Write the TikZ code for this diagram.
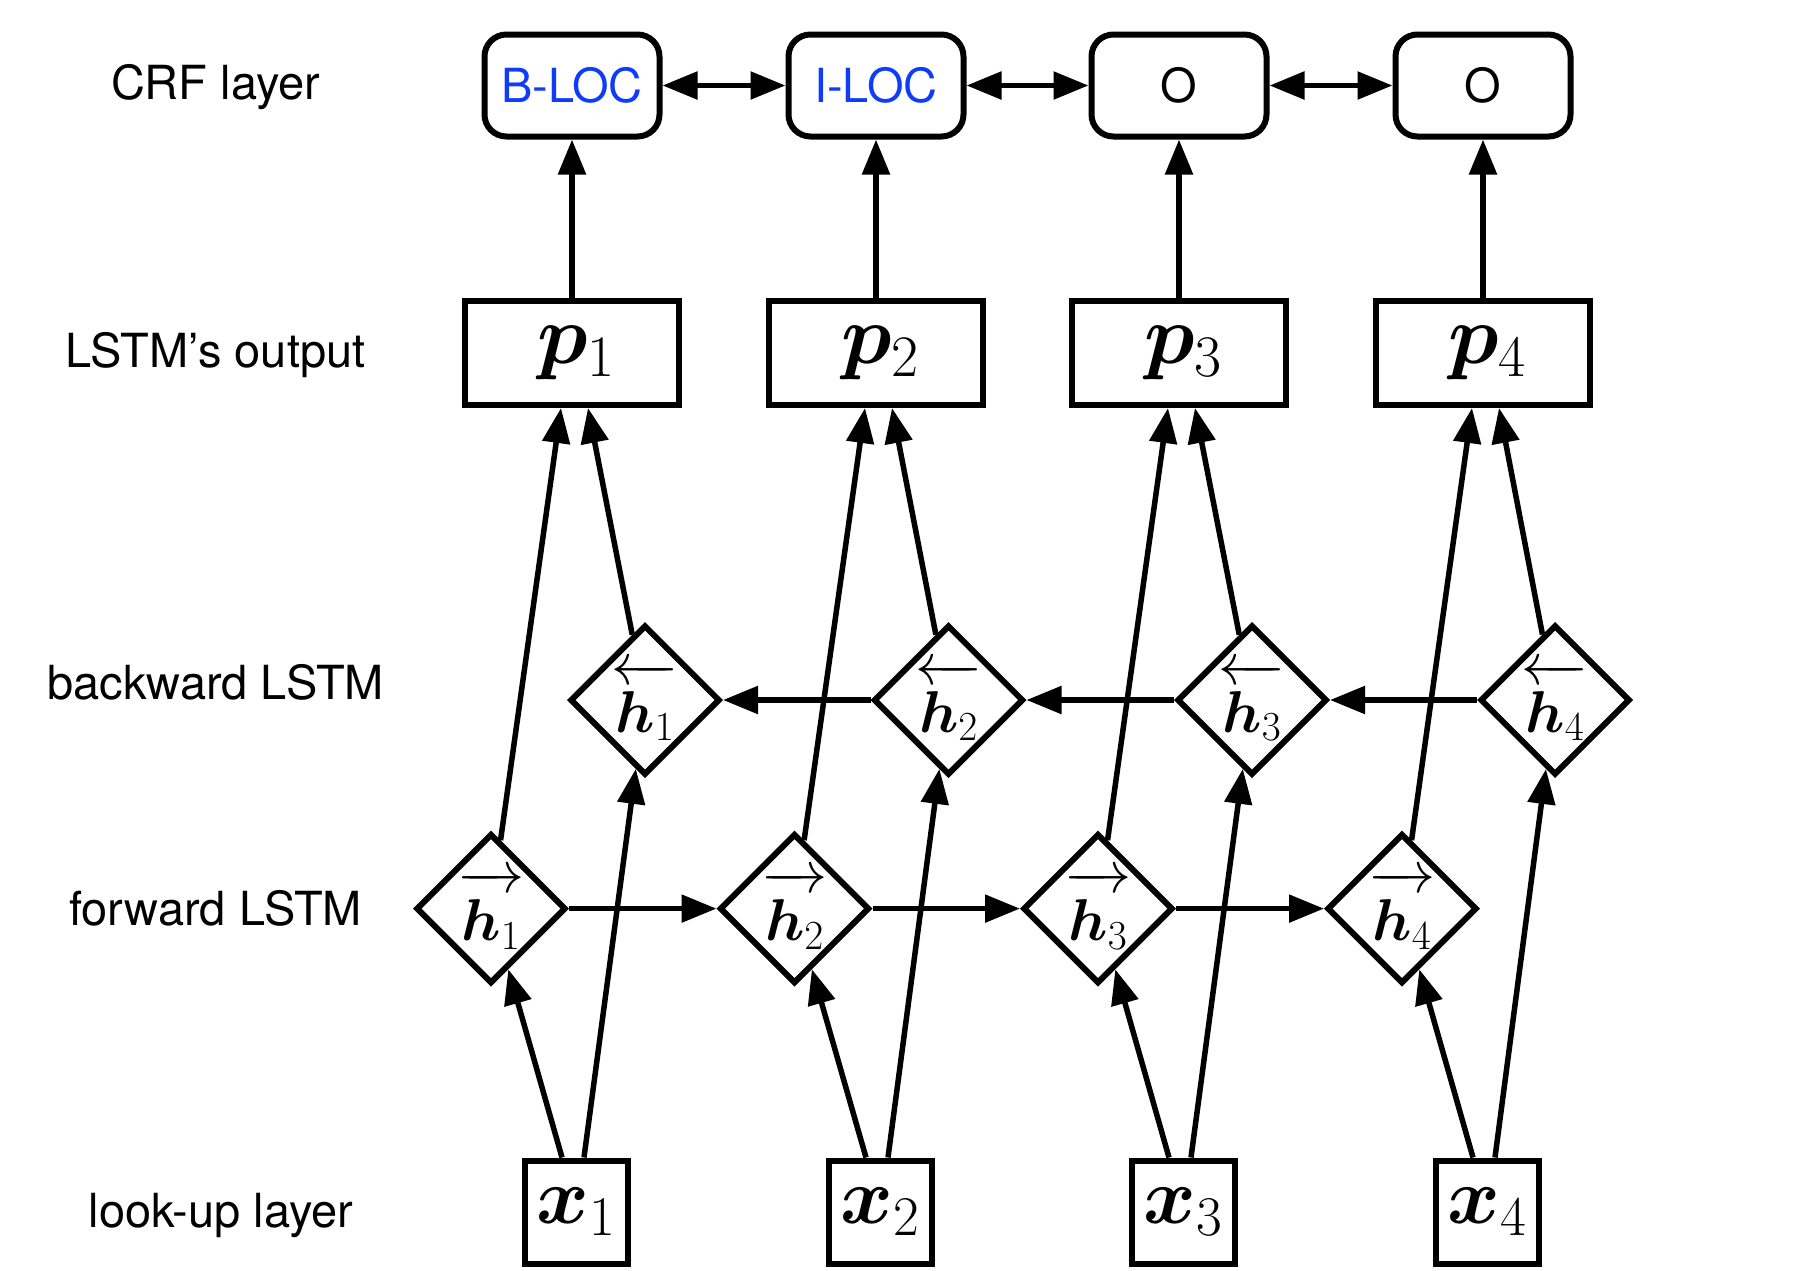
\RequirePackage{fix-cm}
\documentclass[tikz,border=0pt]{standalone}
\usepackage{amsmath,bm}
\usepackage{fontspec}
\newfontfamily\lab{TeX Gyre Heros}
\usetikzlibrary{arrows.meta,shapes.geometric}
\definecolor{tagblue}{RGB}{15,60,250}
\tikzset{
 lbl/.style={font=\lab\fontsize{47}{50}\selectfont, inner sep=0pt},
 crf/.style={draw, line width=6pt, rounded corners=22pt, minimum width=175pt, minimum height=102pt, font=\lab\fontsize{47}{50}\selectfont, inner sep=0pt},
 pbox/.style={draw, line width=6pt, minimum width=214pt, minimum height=104pt, inner sep=0pt, font=\fontsize{84}{88}\selectfont},
 xbox/.style={draw, line width=6pt, minimum width=103pt, minimum height=103pt, inner sep=0pt, font=\fontsize{80}{84}\selectfont},
 hd/.style={draw, diamond, aspect=1, line width=6pt, minimum width=150pt, minimum height=150pt, inner sep=0pt},
 htxt/.style={anchor=base, inner sep=0pt, font=\fontsize{59}{63}\selectfont},
 arr/.style={line width=5.5pt, -{Triangle[length=35pt,width=27pt]}},
 darr/.style={line width=5.5pt, {Triangle[length=35pt,width=27pt]}-{Triangle[length=35pt,width=27pt]}},
}
\begin{document}
\begin{tikzpicture}[x=1pt,y=-1pt]
\useasboundingbox (0,0) rectangle (1808,1270);
% labels
\node[lbl] (lcrf) at (215.6,87) {CRF layer};
\node[lbl] (lout) at (215.6,355) {LSTM’s output};
\node[lbl] (lbw) at (215.6,682) {backward LSTM};
\node[lbl] (lfw) at (215.6,908) {forward LSTM};
\node[lbl] (llu) at (221,1215) {look-up layer};
% CRF layer
\node[crf, text=tagblue] (c1) at (572,85.5) {B-LOC};
\node[crf, text=tagblue] (c2) at (876,85.5) {I-LOC};
\node[crf] (c3) at (1179,85.5) {O};
\node[crf] (c4) at (1483,85.5) {O};
% outputs
\node[pbox] (p1) at (572,353) {\hspace{8pt}$\bm{p}_1$};
\node[pbox] (p2) at (876,353) {\hspace{8pt}$\bm{p}_2$};
\node[pbox] (p3) at (1179,353) {\hspace{8pt}$\bm{p}_3$};
\node[pbox] (p4) at (1483,353) {\hspace{8pt}$\bm{p}_4$};
% backward LSTM
\foreach \i/\x in {1/645,2/948.5,3/1252,4/1555}{
  \node[hd] (b\i) at (\x,700) {};
  \node[htxt] (b\i a) at ([yshift=16pt]b\i.center) {\makebox[67pt]{\leftarrowfill}};
  \node[htxt] (b\i h) at ([yshift=-32pt]b\i.center) {$\bm{h}_{\i}$};
}
% forward LSTM
\foreach \i/\x in {1/491,2/794.5,3/1098,4/1402}{
  \node[hd] (f\i) at (\x,908.6) {};
  \node[htxt] (f\i a) at ([yshift=16pt]f\i.center) {\makebox[67pt]{\rightarrowfill}};
  \node[htxt] (f\i h) at ([yshift=-32pt]f\i.center) {$\bm{h}_{\i}$};
}
% inputs
\node[xbox] (x1) at (576,1212) {$\bm{x}_1$};
\node[xbox] (x2) at (880,1212) {$\bm{x}_2$};
\node[xbox] (x3) at (1183,1212) {$\bm{x}_3$};
\node[xbox] (x4) at (1487,1212) {$\bm{x}_4$};
% connectors
\foreach \i in {1,2,3,4}{
  \draw[arr] (p\i.north) -- (c\i.south);
  \draw[arr] ([xshift=-14pt]x\i.north) -- (f\i);
  \draw[arr] ([xshift=8pt]x\i.north) -- (b\i);
  \draw[arr] (f\i) -- ([xshift=-11pt]p\i.south);
  \draw[arr] (b\i) -- ([xshift=16pt]p\i.south);
}
\foreach \i/\j in {1/2,2/3,3/4}{
  \draw[darr] (c\i.east) -- (c\j.west);
  \draw[arr] (f\i.east) -- (f\j.west);
  \draw[arr] (b\j.west) -- (b\i.east);
}
\end{tikzpicture}
\end{document}
